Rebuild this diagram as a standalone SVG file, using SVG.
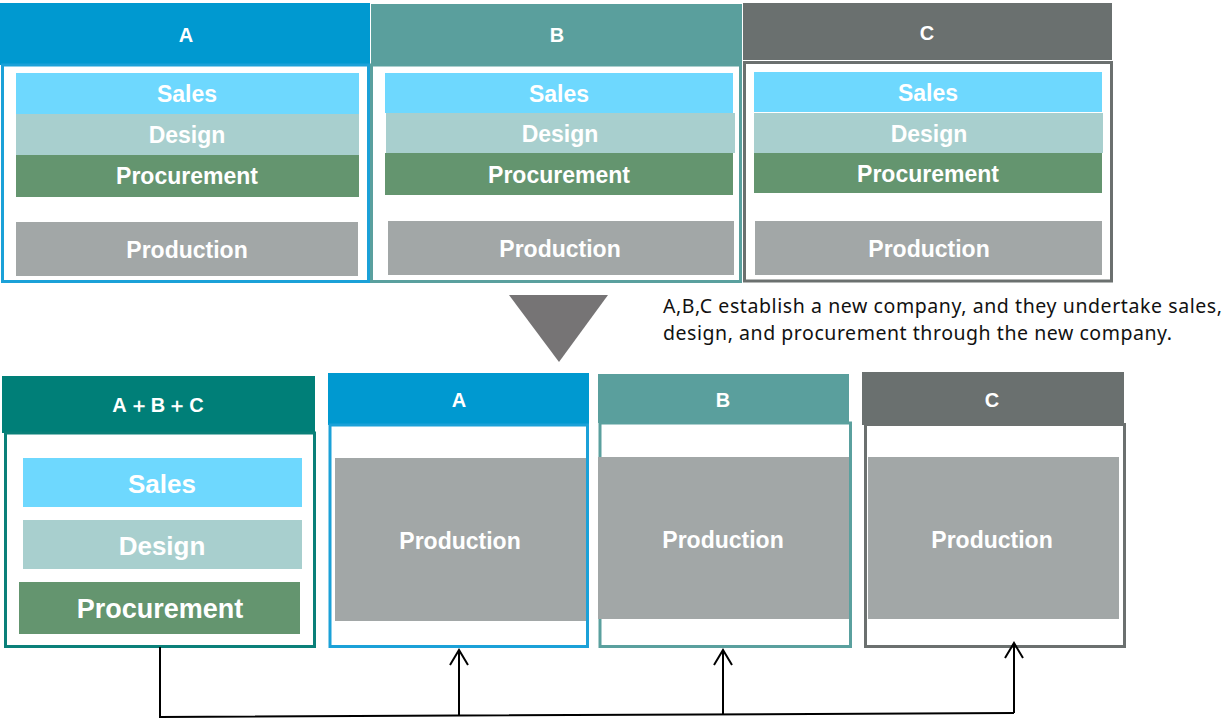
<svg xmlns="http://www.w3.org/2000/svg" width="1225" height="720" viewBox="0 0 1225 720">
<style>
.lbl{font-family:"Liberation Sans",Arial,sans-serif;font-weight:bold;fill:#fff;text-anchor:middle}
.hdr{font-size:20px}
.top{font-size:23px}
.big{font-size:26px}
.sales{fill:#6ED8FE}
.design{fill:#A8CFCE}
.proc{fill:#64956F}
.prod{fill:#A2A7A7}
.desc{font-family:"Noto Sans","Liberation Sans",Arial,sans-serif;font-size:19.5px;fill:#111}
.conn{stroke:#000;stroke-width:2;fill:none}
</style>
<defs>
<marker id="openArrow" markerUnits="userSpaceOnUse" viewBox="-17 -11 19 22" markerWidth="19" markerHeight="22" refX="0" refY="0" orient="auto">
<path d="M-15,-9 L0,0 L-15,9" fill="none" stroke="#000" stroke-width="2"/>
</marker>
</defs>
<rect width="1225" height="720" fill="#fff"/>

<g id="top-A">
<rect x="0" y="3" width="370" height="62" fill="#0099D0"/>
<rect x="2.5" y="65" width="366" height="216.5" fill="#fff" stroke="#1BA1D8" stroke-width="3"/>
<rect class="sales" x="16" y="73" width="343" height="41"/>
<rect class="design" x="16" y="114" width="343" height="41"/>
<rect class="proc" x="16" y="155" width="343" height="42"/>
<rect class="prod" x="16" y="222" width="342" height="54"/>
<text class="lbl hdr" x="186" y="42">A</text>
<text class="lbl top" x="187" y="102">Sales</text>
<text class="lbl top" x="187" y="143">Design</text>
<text class="lbl top" x="187" y="184">Procurement</text>
<text class="lbl top" x="187" y="258">Production</text>
</g>

<g id="top-B">
<rect x="371" y="4" width="371" height="61" fill="#5A9F9D"/>
<rect x="371.5" y="65" width="369" height="216.5" fill="#fff" stroke="#5AA09E" stroke-width="3"/>
<rect class="sales" x="385" y="73" width="348" height="40"/>
<rect class="design" x="386" y="113" width="349" height="40"/>
<rect class="proc" x="385" y="153" width="348" height="42"/>
<rect class="prod" x="388" y="221" width="346" height="54"/>
<text class="lbl hdr" x="557" y="42">B</text>
<text class="lbl top" x="559" y="102">Sales</text>
<text class="lbl top" x="560" y="142">Design</text>
<text class="lbl top" x="559" y="183">Procurement</text>
<text class="lbl top" x="560" y="257">Production</text>
</g>

<g id="top-C">
<rect x="743" y="3" width="369" height="57" fill="#6A706F"/>
<rect x="744.5" y="62.5" width="367" height="218.5" fill="#fff" stroke="#6B706F" stroke-width="3"/>
<rect class="sales" x="754" y="72" width="348" height="40"/>
<rect class="design" x="754" y="113" width="349" height="40"/>
<rect class="proc" x="754" y="153" width="348" height="40"/>
<rect class="prod" x="755" y="221" width="347" height="54"/>
<text class="lbl hdr" x="927" y="40">C</text>
<text class="lbl top" x="928" y="101">Sales</text>
<text class="lbl top" x="929" y="142">Design</text>
<text class="lbl top" x="928" y="182">Procurement</text>
<text class="lbl top" x="929" y="257">Production</text>
</g>

<polygon id="transition" points="509,295 608,295 559,362" fill="#767475"/>
<g id="note">
<text class="desc" x="663" y="313" textLength="559" lengthAdjust="spacing">A,B,C establish a new company, and they undertake sales,</text>
<text class="desc" x="663" y="340" textLength="509" lengthAdjust="spacing">design, and procurement through the new company.</text>
</g>

<g id="new-company">
<rect x="2" y="376" width="313" height="57" fill="#007F78"/>
<rect x="5.5" y="433" width="309" height="213.5" fill="#fff" stroke="#0A8079" stroke-width="3"/>
<rect class="sales" x="23" y="458" width="279" height="49"/>
<rect class="design" x="23" y="520" width="279" height="49"/>
<rect class="proc" x="19" y="582" width="281" height="52"/>
<text class="lbl hdr" x="159" y="412" style="letter-spacing:2px">A＋B＋C</text>
<text class="lbl big" x="162" y="493">Sales</text>
<text class="lbl big" x="162" y="555">Design</text>
<text class="lbl" x="160" y="618" style="font-size:27px">Procurement</text>
</g>

<g id="bottom-A">
<rect x="328" y="373" width="261" height="52" fill="#0099D0"/>
<rect x="330" y="425" width="257.5" height="221.5" fill="#fff" stroke="#1BA1D8" stroke-width="3"/>
<rect class="prod" x="335" y="458" width="251" height="163"/>
<text class="lbl hdr" x="459" y="407">A</text>
<text class="lbl top" x="460" y="549">Production</text>
</g>

<g id="bottom-B">
<rect x="598" y="374" width="251" height="49" fill="#5A9F9D"/>
<rect x="600" y="423" width="250.5" height="223.5" fill="#fff" stroke="#5AA09E" stroke-width="3"/>
<rect class="prod" x="598" y="457" width="251" height="162"/>
<text class="lbl hdr" x="723" y="407">B</text>
<text class="lbl top" x="723" y="548">Production</text>
</g>

<g id="bottom-C">
<rect x="862" y="372" width="262" height="53" fill="#6A706F"/>
<rect x="865.5" y="424.5" width="259" height="222" fill="#fff" stroke="#6B706F" stroke-width="3"/>
<rect class="prod" x="868" y="457" width="251" height="162"/>
<text class="lbl hdr" x="992" y="407">C</text>
<text class="lbl top" x="992" y="548">Production</text>
</g>

<g id="connectors">
<polyline class="conn" points="160,647 160,717 1014,713"/>
<line class="conn" x1="459" y1="716" x2="459" y2="650" marker-end="url(#openArrow)"/>
<line class="conn" x1="723" y1="715" x2="723" y2="650" marker-end="url(#openArrow)"/>
<line class="conn" x1="1014" y1="713" x2="1014" y2="643" marker-end="url(#openArrow)"/>
</g>
</svg>
